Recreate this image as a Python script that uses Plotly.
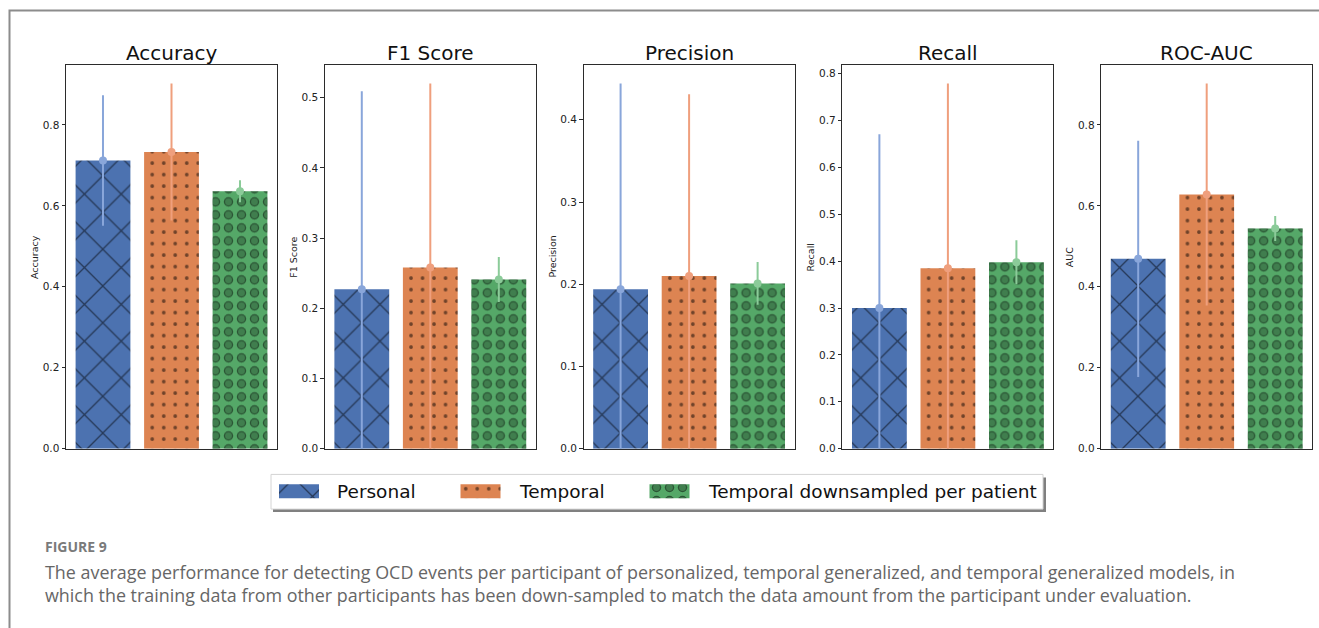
import plotly.graph_objects as go

# ---- data -------------------------------------------------------------
models = ["Personal", "Temporal", "Temporal downsampled per patient"]
metrics = ["Accuracy", "F1 Score", "Precision", "Recall", "ROC-AUC"]
ylabels = ["Accuracy", "F1 Score", "Precision", "Recall", "AUC"]
tick_steps = [0.2, 0.1, 0.1, 0.1, 0.2]

personal_mean = [0.712, 0.227, 0.194, 0.300, 0.469]
personal_err = [0.161, 0.282, 0.250, 0.371, 0.292]
temporal_mean = [0.733, 0.258, 0.210, 0.385, 0.628]
temporal_err = [0.169, 0.262, 0.221, 0.394, 0.274]
downsampled_mean = [0.636, 0.241, 0.201, 0.398, 0.544]
downsampled_err = [0.027, 0.032, 0.026, 0.047, 0.031]

means = [personal_mean, temporal_mean, downsampled_mean]
errs = [personal_err, temporal_err, downsampled_err]

caption_head = "FIGURE 9"
caption_lines = [
    "The average performance for detecting OCD events per participant of personalized, "
    "temporal generalized, and temporal generalized models, in",
    "which the training data from other participants has been down-sampled to match the "
    "data amount from the participant under evaluation.",
]

# ---- style ------------------------------------------------------------
W, H = 1319, 628
bar_colors = ["#4C72B0", "#DD8452", "#55A868"]
err_colors = ["#89A6DA", "#EF9F7D", "#8BCB99"]
FONT = "DejaVu Sans"
AX = "#2b2b2b"

# hatch patterns: cross-hatch, dots, rings (ring = black disc + green inner disc)
patterns = [
    dict(shape="x", fgcolor="#000000", size=26, solidity=0.1),
    dict(shape=".", fgcolor="#000000", size=11.5, solidity=0.08),
    dict(shape=".", fgcolor="#000000", size=13, solidity=0.41),
]
ring_inner = dict(shape=".", fgcolor=bar_colors[2], bgcolor="rgba(0,0,0,0)",
                  size=13, solidity=0.215)


def px(x):
    return x / W


def py(y):
    return 1 - y / H


panel_w = 211
panel_left = [66 + i * 258.8 for i in range(5)]
top_px, bot_px = 66, 453

fig = go.Figure()
annotations = []
shapes = []

for i, metric in enumerate(metrics):
    ax = "" if i == 0 else str(i + 1)
    xa, ya = "x" + ax, "y" + ax
    for m in range(3):
        fig.add_trace(go.Bar(
            x=[models[m]], y=[means[m][i]], width=0.8, xaxis=xa, yaxis=ya,
            marker=dict(color=bar_colors[m], line=dict(width=0), pattern=patterns[m]),
            showlegend=False, hoverinfo="skip",
        ))
        if m == 2:
            fig.add_trace(go.Bar(
                x=[models[m]], y=[means[m][i]], width=0.8, xaxis=xa, yaxis=ya,
                marker=dict(color="rgba(0,0,0,0)", line=dict(width=0), pattern=ring_inner),
                showlegend=False, hoverinfo="skip",
            ))
    for m in range(3):
        fig.add_trace(go.Scatter(
            x=[models[m]], y=[means[m][i]], mode="markers", xaxis=xa, yaxis=ya,
            marker=dict(color=err_colors[m], size=8),
            error_y=dict(type="data", array=[errs[m][i]], color=err_colors[m],
                         thickness=2, width=0),
            showlegend=False, hoverinfo="skip",
        ))

    ymax = 1.05 * max(means[m][i] + errs[m][i] for m in range(3))
    x0 = panel_left[i]
    fig.update_layout(**{
        "xaxis" + ax: dict(domain=[px(x0), px(x0 + panel_w)], range=[-0.54, 2.54],
                           showticklabels=False, ticks="", showgrid=False, zeroline=False,
                           showline=True, mirror=True, linecolor=AX, linewidth=1,
                           anchor=ya, fixedrange=True),
        "yaxis" + ax: dict(domain=[py(bot_px), py(top_px)], range=[0, ymax],
                           dtick=tick_steps[i], tick0=0, tickformat=".1f",
                           ticks="outside", ticklen=3.5, tickwidth=1, tickcolor=AX,
                           tickfont=dict(family=FONT, size=10.5, color="#222222"),
                           showgrid=False, zeroline=False, showline=True, mirror=True,
                           linecolor=AX, linewidth=1, anchor=xa, fixedrange=True),
    })
    annotations.append(dict(text=metric, x=px(x0 + panel_w / 2), y=py(54), xref="paper",
                            yref="paper", showarrow=False, xanchor="center", yanchor="middle",
                            font=dict(family=FONT, size=20, color="#111111")))
    annotations.append(dict(text=ylabels[i], x=px(x0 - 32), y=py((top_px + bot_px) / 2),
                            xref="paper", yref="paper", showarrow=False, textangle=-90,
                            xanchor="center", yanchor="middle",
                            font=dict(family=FONT, size=9.5, color="#222222")))

# ---- legend (pixel-space overlay axes) -----------------------------------
fig.update_layout(
    xaxis6=dict(domain=[0, 1], range=[0, W], visible=False, fixedrange=True, anchor="y6"),
    yaxis6=dict(domain=[0, 1], range=[H, 0], visible=False, fixedrange=True, anchor="x6"),
)
leg_patch_x = [299, 480.5, 669.5]
leg_text_x = [335, 517, 706]
leg_y = 496
for m in range(3):
    fig.add_trace(go.Bar(
        x=[leg_patch_x[m]], y=[14], base=[leg_y - 7], width=[40], xaxis="x6", yaxis="y6",
        marker=dict(color=bar_colors[m], line=dict(width=0), pattern=patterns[m]),
        showlegend=False, hoverinfo="skip",
    ))
    if m == 2:
        fig.add_trace(go.Bar(
            x=[leg_patch_x[m]], y=[14], base=[leg_y - 7], width=[40], xaxis="x6", yaxis="y6",
            marker=dict(color="rgba(0,0,0,0)", line=dict(width=0), pattern=ring_inner),
            showlegend=False, hoverinfo="skip",
        ))
    annotations.append(dict(text=models[m], x=px(leg_text_x[m]), y=py(leg_y), xref="paper",
                            yref="paper", showarrow=False, xanchor="left", yanchor="middle",
                            font=dict(family=FONT, size=18.5, color="#111111")))

shapes.append(dict(type="rect", xref="x6", yref="y6", x0=273, x1=1046, y0=482, y1=517,
                   fillcolor="#808080", line=dict(width=0), layer="below"))
shapes.append(dict(type="rect", xref="x6", yref="y6", x0=271, x1=1043, y0=479, y1=514,
                   fillcolor="white", line=dict(color="#d4d4d4", width=1), layer="below"))

# ---- outer frame and caption --------------------------------------------
shapes.append(dict(type="rect", xref="paper", yref="paper", x0=px(9.5), x1=1.05,
                   y0=-0.05, y1=py(10.5), line=dict(color="#8c8c8c", width=2),
                   fillcolor="rgba(0,0,0,0)"))

annotations.append(dict(text="<b>" + caption_head + "</b>", x=px(43), y=py(552), xref="paper",
                        yref="paper", showarrow=False, xanchor="left", yanchor="middle",
                        font=dict(family="Open Sans", size=14, color="#7a7a7a")))
for k, line in enumerate(caption_lines):
    annotations.append(dict(text=line, x=px(43), y=py(578 + 23 * k), xref="paper",
                            yref="paper", showarrow=False, xanchor="left", yanchor="middle",
                            font=dict(family="Open Sans", size=17.9, color="#666666")))

fig.update_layout(
    width=W, height=H, margin=dict(l=0, r=0, t=0, b=0),
    paper_bgcolor="white", plot_bgcolor="rgba(0,0,0,0)",
    barmode="overlay", showlegend=False,
    annotations=annotations, shapes=shapes,
)

fig.write_html("out.html")
